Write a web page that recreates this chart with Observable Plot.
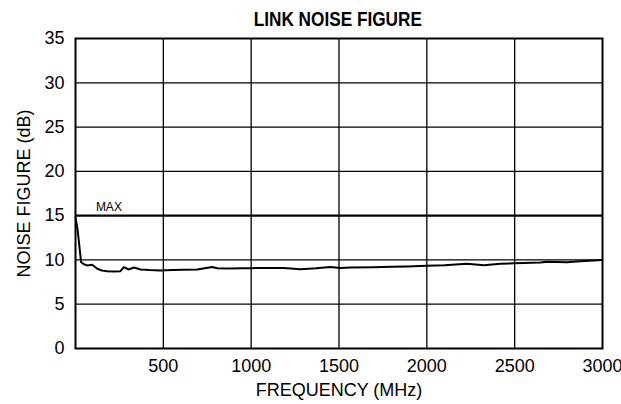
<!DOCTYPE html>
<html>
<head>
<meta charset="utf-8">
<script src="https://cdn.jsdelivr.net/npm/d3@7"></script>
<script src="https://cdn.jsdelivr.net/npm/@observablehq/plot@0.6"></script>
<style>
  html, body { margin: 0; padding: 0; background: #fff; }
  #title { width: 621px; height: 30px; line-height: 38px; text-align: center; padding-left: 54px; box-sizing: border-box;
    font-family: "Liberation Sans", Arial, sans-serif; font-weight: bold; font-size: 20px; color: #000; }
  #title span { display: inline-block; transform: scaleX(0.86); transform-origin: center; }
</style>
</head>
<body>
<div id="title"><span>LINK NOISE FIGURE</span></div>
<div id="chart"></div>
<script>
// Data
const freqMHz = [0, 12, 32, 50, 67, 95, 124, 150, 180, 220, 256, 275, 303, 332, 370, 420, 484, 550, 616, 693, 778, 807, 882, 950, 1000, 1100, 1186, 1281, 1370, 1451, 1508, 1565, 1698, 1800, 1888, 2000, 2100, 2229, 2324, 2419, 2502, 2647, 2684, 2798, 2874, 3000];
const noiseFigure = [14.8, 13.4, 9.74, 9.5, 9.37, 9.45, 9.0, 8.8, 8.73, 8.7, 8.73, 9.18, 8.92, 9.15, 8.92, 8.85, 8.8, 8.85, 8.9, 8.92, 9.2, 9.07, 9.03, 9.05, 9.07, 9.1, 9.1, 8.95, 9.05, 9.2, 9.1, 9.15, 9.18, 9.22, 9.26, 9.33, 9.4, 9.56, 9.4, 9.56, 9.63, 9.71, 9.79, 9.75, 9.86, 10.0];
const maxLimit = 15;
const maxLabel = "MAX";
const maxLabelFreq = 190;
const xTicks = [500, 1000, 1500, 2000, 2500, 3000];
const yTicks = [0, 5, 10, 15, 20, 25, 30, 35];
const xGrid = [500, 1000, 1500, 2000, 2500];
const yGrid = [5, 10, 20, 25, 30];
const xTitle = "FREQUENCY (MHz)";
const yTitle = "NOISE FIGURE (dB)";

const data = freqMHz.map((f, i) => ({f, nf: noiseFigure[i]}));
const font = "'Liberation Sans', Arial, sans-serif";

const chart = Plot.plot({
  width: 621,
  height: 374,
  marginTop: 8,
  marginBottom: 56,
  marginLeft: 75,
  marginRight: 19,
  style: {fontFamily: font, fontSize: "18px", color: "#000", background: "#fff", overflow: "visible"},
  x: {domain: [0, 3000]},
  y: {domain: [0, 35]},
  marks: [
    Plot.ruleX(xGrid, {stroke: "#000", strokeWidth: 1.3}),
    Plot.ruleY(yGrid, {stroke: "#000", strokeWidth: 1.3}),
    Plot.ruleY([maxLimit], {stroke: "#000", strokeWidth: 2.2}),
    Plot.frame({stroke: "#000", strokeWidth: 2}),
    Plot.axisX(xTicks, {tickSize: 0, tickPadding: 11, label: null, fontSize: 18, tickFormat: d3.format("d")}),
    Plot.axisY(yTicks, {tickSize: 0, tickPadding: 11, label: null, fontSize: 18, tickFormat: d3.format("d")}),
    Plot.text([xTitle], {frameAnchor: "bottom", dy: 42, lineAnchor: "middle", textAnchor: "middle", fontSize: 18, fill: "#000"}),
    Plot.text([yTitle], {frameAnchor: "left", dx: -51, rotate: -90, lineAnchor: "middle", textAnchor: "middle", fontSize: 18, fill: "#000"}),
    Plot.text([maxLabel], {x: () => maxLabelFreq, y: () => maxLimit, dy: -8, lineAnchor: "middle", fontSize: 12, fill: "#000"}),
    Plot.line(data, {x: "f", y: "nf", stroke: "#000", strokeWidth: 2, curve: "linear"})
  ]
});
document.getElementById("chart").appendChild(chart);
</script>
</body>
</html>
